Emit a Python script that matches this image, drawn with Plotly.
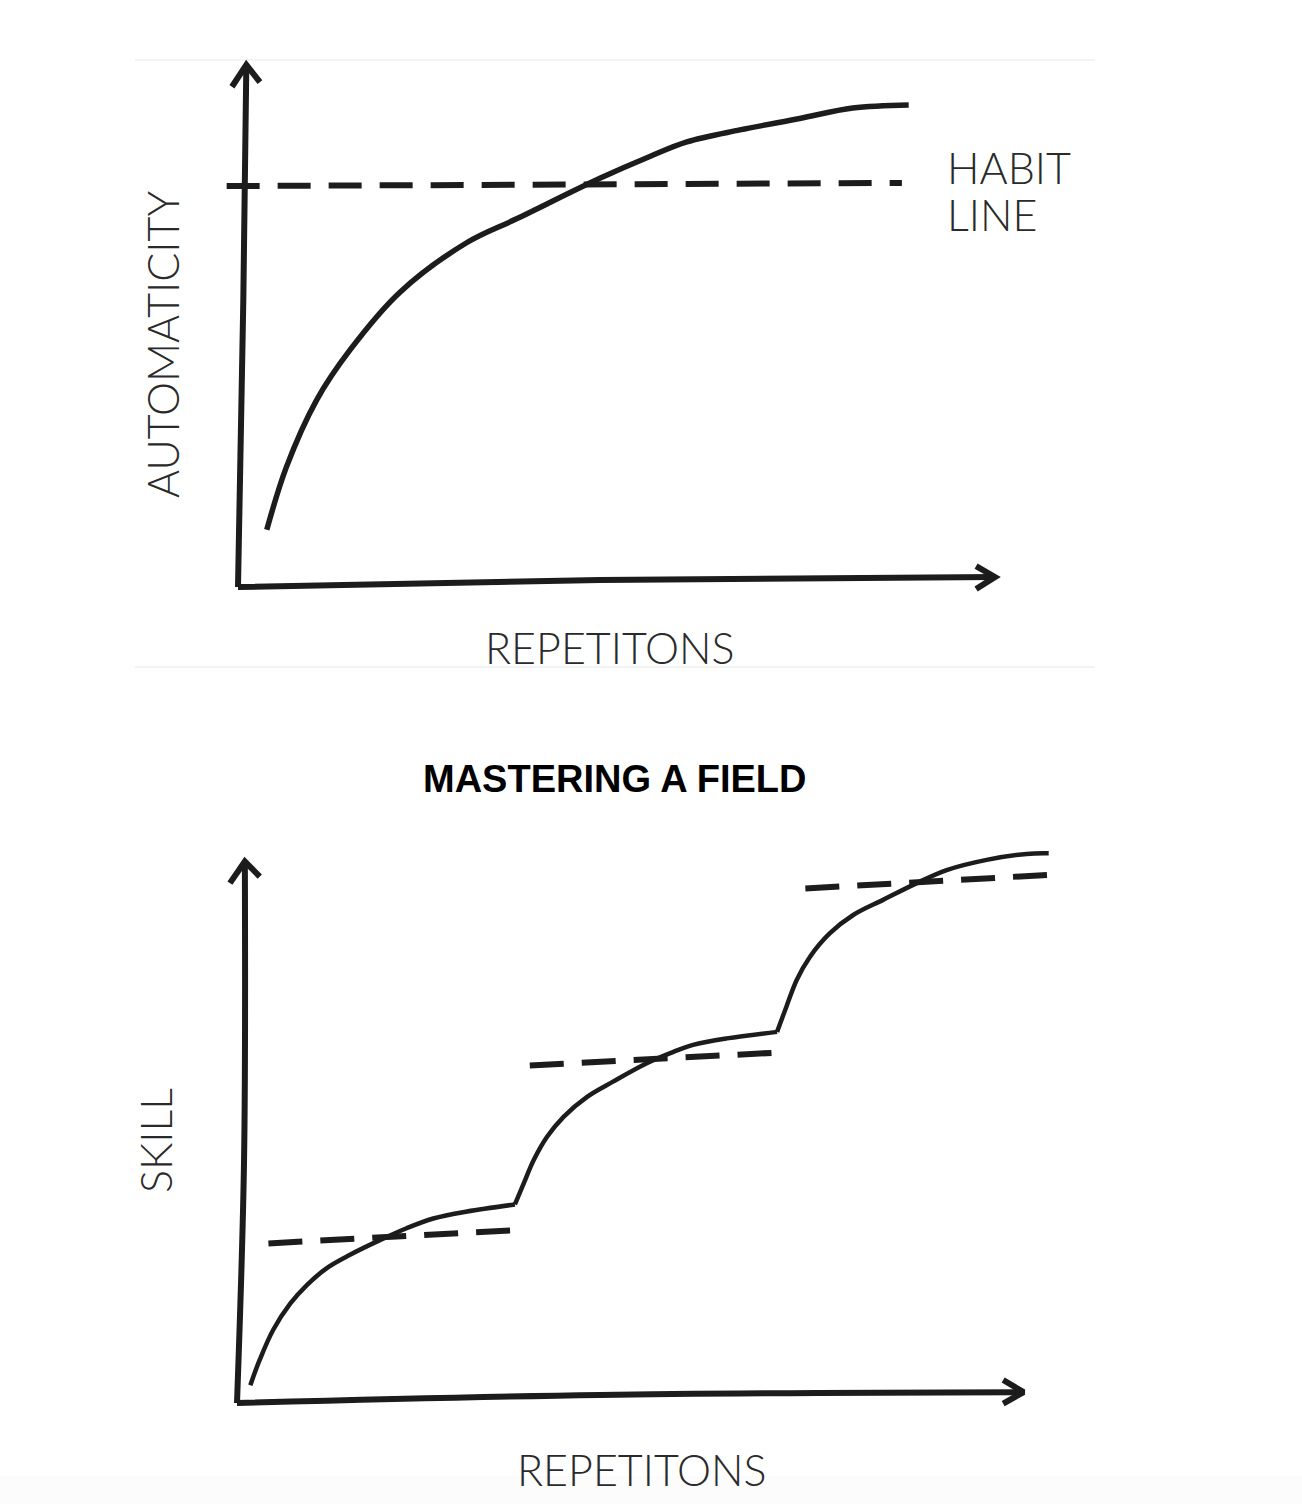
import plotly.graph_objects as go

# ---------------- data (chart units: 0..100 on each axis) ----------------
# Top chart: automaticity vs repetitions
habit_x = [3.8, 6.4, 10.4, 14.8, 21.4, 30.2, 36.8, 47.8, 54.4, 59.3, 66.3, 74.2, 81.2, 88.6]
habit_y = [11.0, 23.1, 36.0, 45.6, 56.7, 66.2, 70.8, 78.6, 82.8, 85.6, 87.9, 90.1, 92.1, 92.7]
habit_line_x = [-1.5, 87.7]
habit_line_y = [77.1, 77.7]

top_yaxis_x = [0.0, 0.7, 1.1]
top_yaxis_y = [0.0, 55.0, 100.4]
top_yarrow_x = [-0.8, 1.1, 2.9]
top_yarrow_y = [96.2, 100.4, 97.1]
top_xaxis_x = [0.0, 47.8, 100.0]
top_xaxis_y = [0.0, 1.35, 1.92]
top_xarrow_x = [97.5, 100.0, 97.5]
top_xarrow_y = [4.0, 1.92, -0.4]

# Bottom chart: skill vs repetitions (three learning stages)
seg1_x = [1.7, 2.9, 4.6, 6.8, 8.9, 11.4, 14.4, 18.2, 21.6, 25.0, 29.3, 35.4]
seg1_y = [3.3, 8.0, 13.5, 18.4, 21.8, 24.9, 27.4, 30.1, 32.3, 34.1, 35.4, 36.7]
seg2_x = [35.4, 36.5, 37.8, 39.5, 41.6, 44.6, 47.9, 52.2, 55.6, 58.1, 62.4, 68.8]
seg2_y = [36.7, 40.5, 44.9, 49.2, 52.9, 56.6, 59.4, 62.8, 64.9, 66.2, 67.4, 68.6]
seg3_x = [68.8, 70.0, 71.3, 73.0, 75.5, 78.5, 82.3, 86.6, 90.4, 95.5, 100.6, 103.4]
seg3_y = [68.6, 73.3, 78.2, 82.5, 86.8, 90.2, 93.0, 96.1, 98.5, 100.4, 101.5, 101.6]

plateau1_x = [4.0, 36.1]
plateau1_y = [29.5, 32.0]
plateau2_x = [37.3, 69.2]
plateau2_y = [62.4, 64.8]
plateau3_x = [72.4, 104.4]
plateau3_y = [95.1, 97.7]

bot_yaxis_x = [0.0, 0.9, 1.0]
bot_yaxis_y = [0.0, 45.0, 100.1]
bot_yarrow_x = [-0.9, 1.0, 2.9]
bot_yarrow_y = [96.1, 100.1, 97.3]
bot_xaxis_x = [0.0, 46.2, 100.2]
bot_xaxis_y = [0.0, 1.5, 2.0]
bot_xarrow_x = [97.6, 100.2, 97.6]
bot_xarrow_y = [4.25, 2.0, -0.1]

# text
title_text = "MASTERING A FIELD"
top_xlabel = "REPETITONS"
top_ylabel = "AUTOMATICITY"
habit_label_1 = "HABIT"
habit_label_2 = "LINE"
bot_xlabel = "REPETITONS"
bot_ylabel = "SKILL"

# ---------------- layout helpers ----------------
W, H = 1302, 1504
INK = "#1c1c1c"
TXT = "#2a2a2a"
SPLIT = 700  # pixel row separating the two panels


def px_range(origin_px, unit_px, lo_px, hi_px):
    return [(lo_px - origin_px) / unit_px, (hi_px - origin_px) / unit_px]


def py_range(origin_py, unit_py, top_py, bot_py):
    return [(origin_py - bot_py) / unit_py, (origin_py - top_py) / unit_py]


fig = go.Figure()


def line(x, y, xa, ya, width, dash=None, shape="linear"):
    fig.add_trace(go.Scatter(
        x=x, y=y, xaxis=xa, yaxis=ya, mode="lines",
        line=dict(color=INK, width=width, dash=dash, shape=shape, smoothing=1.0),
        hoverinfo="skip", showlegend=False, connectgaps=False,
    ))


# top panel
line(top_yaxis_x, top_yaxis_y, "x", "y", 6, shape="spline")
line(top_yarrow_x, top_yarrow_y, "x", "y", 6)
line(top_xaxis_x, top_xaxis_y, "x", "y", 6, shape="spline")
line(top_xarrow_x, top_xarrow_y, "x", "y", 6)
line(habit_line_x, habit_line_y, "x", "y", 6, dash="33px,18px")
line(habit_x, habit_y, "x", "y", 5.5, shape="spline")

# bottom panel
line(bot_yaxis_x, bot_yaxis_y, "x2", "y2", 6, shape="spline")
line(bot_yarrow_x, bot_yarrow_y, "x2", "y2", 6)
line(bot_xaxis_x, bot_xaxis_y, "x2", "y2", 6, shape="spline")
line(bot_xarrow_x, bot_xarrow_y, "x2", "y2", 6)
for px_, py_ in [(plateau1_x, plateau1_y), (plateau2_x, plateau2_y), (plateau3_x, plateau3_y)]:
    line(px_, py_, "x2", "y2", 6, dash="34px,18px")
skill_x = seg1_x + [None] + seg2_x + [None] + seg3_x
skill_y = seg1_y + [None] + seg2_y + [None] + seg3_y
line(skill_x, skill_y, "x2", "y2", 4.5, shape="spline")

ax_common = dict(visible=False, showgrid=False, zeroline=False, fixedrange=True)
fig.update_layout(
    width=W, height=H,
    margin=dict(l=0, r=0, t=0, b=0),
    paper_bgcolor="white", plot_bgcolor="rgba(0,0,0,0)",
    hovermode=False, showlegend=False,
    xaxis=dict(domain=[0, 1], range=px_range(238, 7.57, 0, W), anchor="y", **ax_common),
    yaxis=dict(domain=[1 - SPLIT / H, 1], range=py_range(587, 5.2, 0, SPLIT), anchor="x", **ax_common),
    xaxis2=dict(domain=[0, 1], range=px_range(237, 7.85, 0, W), anchor="y2", **ax_common),
    yaxis2=dict(domain=[0, 1 - SPLIT / H], range=py_range(1403, 5.41, SPLIT, H), anchor="x2", **ax_common),
)


def P(px, py):
    return px / W, 1 - py / H


thin = dict(family="Lato, 'Open Sans', sans-serif", size=43, color=TXT, weight=300)


def text(t, px, py, font, angle=0, xanchor="center"):
    x, y = P(px, py)
    fig.add_annotation(x=x, y=y, xref="paper", yref="paper", text=t, showarrow=False,
                       font=font, textangle=angle, xanchor=xanchor, yanchor="middle")


text(top_xlabel, 610, 647, thin)
text(top_ylabel, 163, 345, thin, angle=-90)
text(habit_label_1, 945, 168, thin, xanchor="left")
text(habit_label_2, 945, 215, thin, xanchor="left")
text(bot_xlabel, 642, 1469, thin)
text(bot_ylabel, 155, 1141, thin, angle=-90)
text("<b>" + title_text + "</b>", 615, 779,
     dict(family="Liberation Sans, Arial, sans-serif", size=38, color="#000000"))

# faint separator rules and bottom shading
for yy in (60, 667):
    fig.add_shape(type="line", xref="paper", yref="paper",
                  x0=135 / W, x1=1095 / W, y0=1 - yy / H, y1=1 - yy / H,
                  line=dict(color="#efefef", width=1.5), layer="below")
fig.add_shape(type="rect", xref="paper", yref="paper", x0=0, x1=1, y0=0, y1=1 - 1476 / H,
              fillcolor="#fcfcfc", line=dict(width=0), layer="below")

fig.write_html("out.html")
